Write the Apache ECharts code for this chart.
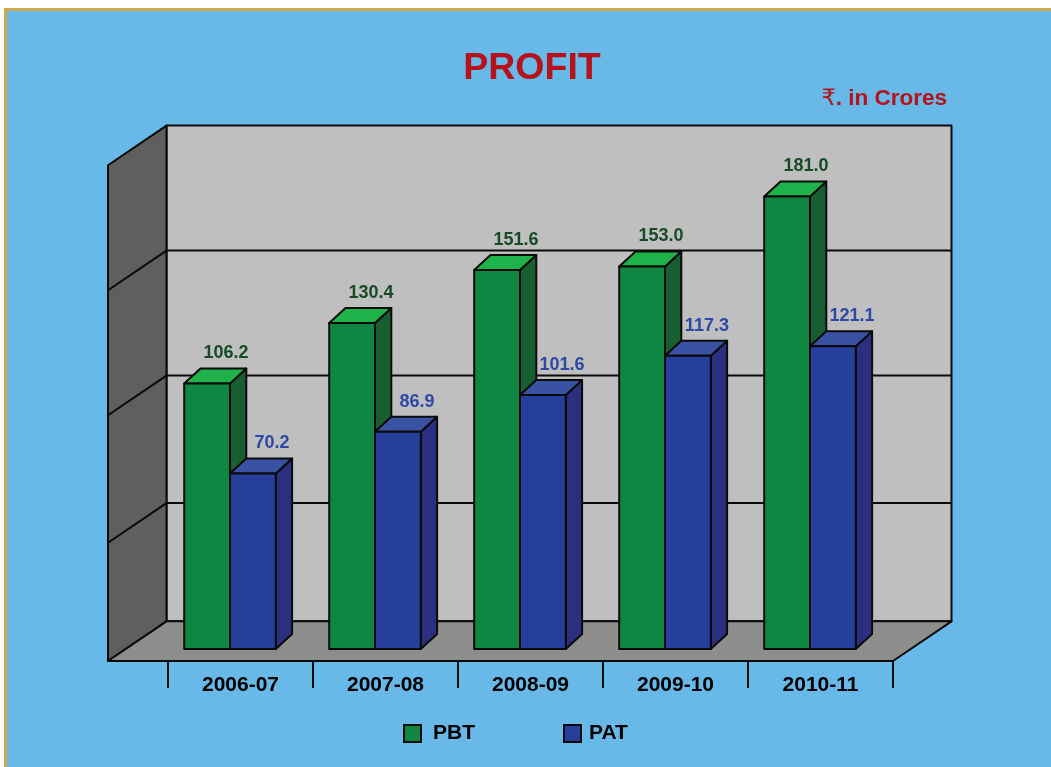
<!DOCTYPE html>
<html>
<head>
<meta charset="utf-8">
<title>PROFIT</title>
<style>
    html, body { margin: 0; padding: 0; background: #fff; overflow: hidden; }
    #frame { position: absolute; left: 4px; top: 8px; right: 0; bottom: 0; background: #68b8e8; border-top: 3px solid #cfa74e; border-left: 3px solid #cfa74e; }
    #chart { position: absolute; left: 0; top: 0; width: 1051px; height: 767px; }
</style>
<script src="https://cdn.jsdelivr.net/npm/echarts@6/dist/echarts.min.js"></script>
</head>
<body>
<div id="frame"></div>
<div id="chart"></div>
<script>
var years = ["2006-07", "2007-08", "2008-09", "2009-10", "2010-11"];
var pbt = [106.2, 130.4, 151.6, 153.0, 181.0];
var pat = [70.2, 86.9, 101.6, 117.3, 121.1];
var wallLines = [47.3, 98.3, 148.3];
var wallTop = 198.3;

var FONT = '"Liberation Sans", Arial, "DejaVu Sans", sans-serif';
var OUTLINE = "#0a0a0a";
var BAR_W = 45.8;
var BAR_DX = 16.3;
var BAR_DY = -15;
var BAR_LIFT = 12;
var PAIR_SHIFT = -10.5;
var WALL_LEFT = 60;
var WALL_DX = 58.5;
var WALL_DY = -39.7;

function poly(points, fill) {
    return {
        type: "polygon",
        shape: { points: points },
        style: { fill: fill, stroke: OUTLINE, lineWidth: 2, lineJoin: "round" }
    };
}

function renderWalls(params, api) {
    var cs = params.coordSys;
    var x0 = cs.x - WALL_LEFT;
    var x1 = cs.x + cs.width;
    var floor = api.coord([0, 0])[1];
    var top = api.coord([0, wallTop])[1];
    var kids = [
        poly([[x0 + WALL_DX, top + WALL_DY], [x1 + WALL_DX, top + WALL_DY], [x1 + WALL_DX, floor + WALL_DY], [x0 + WALL_DX, floor + WALL_DY]], "#bfbfbf"),
        poly([[x0, top], [x0 + WALL_DX, top + WALL_DY], [x0 + WALL_DX, floor + WALL_DY], [x0, floor]], "#5f5f5d"),
        poly([[x0, floor], [x0 + WALL_DX, floor + WALL_DY], [x1 + WALL_DX, floor + WALL_DY], [x1, floor]], "#8d8e8c")
    ];
    wallLines.forEach(function (v) {
        var y = api.coord([0, v])[1];
        kids.push({
            type: "polyline",
            shape: { points: [[x0, y], [x0 + WALL_DX, y + WALL_DY], [x1 + WALL_DX, y + WALL_DY]] },
            style: { fill: null, stroke: OUTLINE, lineWidth: 2 }
        });
    });
    return { type: "group", children: kids };
}

function barRenderer(side, colors) {
    return function (params, api) {
        var v = api.value(1);
        var base = api.coord([api.value(0), 0]);
        var head = api.coord([api.value(0), v]);
        var x0 = base[0] + PAIR_SHIFT + (side - 1) * BAR_W;
        var x1 = x0 + BAR_W;
        var y0 = base[1] - BAR_LIFT;
        var y1 = head[1] - BAR_LIFT;
        return {
            type: "group",
            children: [
                poly([[x1, y1], [x1 + BAR_DX, y1 + BAR_DY], [x1 + BAR_DX, y0 + BAR_DY], [x1, y0]], colors.side),
                poly([[x0, y1], [x0 + BAR_DX, y1 + BAR_DY], [x1 + BAR_DX, y1 + BAR_DY], [x1, y1]], colors.top),
                poly([[x0, y0], [x0, y1], [x1, y1], [x1, y0]], colors.front),
                {
                    type: "text",
                    style: {
                        text: v.toFixed(1),
                        x: (x0 + x1) / 2 + 19,
                        y: y1 - 30,
                        align: "center",
                        verticalAlign: "middle",
                        fill: colors.label,
                        font: "bold 18px " + FONT
                    }
                }
            ]
        };
    };
}

function toData(values) {
    return values.map(function (v, i) {
        return [i, v];
    });
}

function legendAt(name, left, gap) {
    return {
        data: [name],
        left: left,
        top: 723,
        padding: 0,
        icon: "rect",
        itemWidth: 17,
        itemHeight: 17,
        selectedMode: false,
        itemStyle: { borderColor: OUTLINE, borderWidth: 2 },
        textStyle: { color: "#000", fontSize: 21, fontWeight: "bold", fontFamily: FONT, padding: [0, 0, 0, gap] }
    };
}

var option = {
    animation: false,
    backgroundColor: "transparent",
    title: [
        {
            text: "PROFIT",
            left: 527,
            top: 45,
            textAlign: "center",
            textStyle: { color: "#b5121b", fontSize: 37.5, fontWeight: "bold", fontFamily: FONT }
        },
        {
            text: "{r|₹}. in Crores",
            right: 99,
            top: 82,
            textStyle: {
                color: "#b5121b",
                fontSize: 22.5,
                fontWeight: "bold",
                fontFamily: FONT,
                rich: { r: { color: "#b5121b", fontSize: 22.5, fontWeight: "normal", fontFamily: FONT } }
            }
        }
    ],
    legend: [legendAt("PBT", 403, 7), legendAt("PAT", 563, 3)],
    grid: { left: 168, top: 161, width: 725, height: 500 },
    xAxis: {
        type: "category",
        data: years,
        axisLine: { show: false },
        axisTick: { show: true, length: 27, lineStyle: { color: OUTLINE, width: 2 } },
        axisLabel: { color: "#000", fontSize: 21, fontWeight: "bold", fontFamily: FONT, margin: 14 }
    },
    yAxis: { type: "value", min: 0, max: 200, interval: 50, show: false },
    series: [
        {
            name: "walls",
            type: "custom",
            silent: true,
            z: 1,
            data: [[0, 0]],
            encode: { x: 0, y: 1 },
            renderItem: renderWalls
        },
        {
            name: "PBT",
            type: "custom",
            z: 3,
            itemStyle: { color: "#0f8742" },
            data: toData(pbt),
            encode: { x: 0, y: 1 },
            renderItem: barRenderer(0, { front: "#0f8742", side: "#175e30", top: "#1fb24b", label: "#174a26" })
        },
        {
            name: "PAT",
            type: "custom",
            z: 4,
            itemStyle: { color: "#263f9b" },
            data: toData(pat),
            encode: { x: 0, y: 1 },
            renderItem: barRenderer(1, { front: "#263f9b", side: "#2a2f80", top: "#3a52a4", label: "#2f48a6" })
        }
    ]
};

var chart = echarts.init(document.getElementById("chart"));
chart.setOption(option);
</script>
</body>
</html>
